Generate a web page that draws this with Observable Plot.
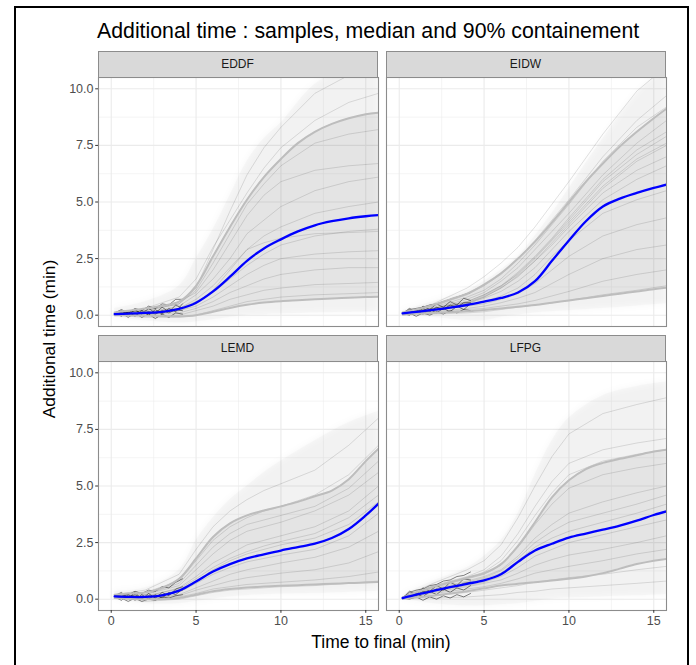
<!DOCTYPE html>
<html><head><meta charset="utf-8">
<script src="https://cdn.jsdelivr.net/npm/d3@7"></script>
<script src="https://cdn.jsdelivr.net/npm/@observablehq/plot@0.6"></script>
<style>
body{margin:0;background:#fff;font-family:"Liberation Sans",Arial,sans-serif;}
#root{position:relative;width:696px;height:665px;overflow:hidden;background:#fff;}
.frame{position:absolute;left:14px;top:6px;width:675px;height:720px;border:2px solid #000;box-sizing:border-box;}
.title{position:absolute;left:97px;top:19px;font-size:21.3px;color:#000;white-space:nowrap;}
.strip{position:absolute;box-sizing:border-box;background:#d9d9d9;border:1px solid #8c8c8c;color:#1a1a1a;font-size:12px;text-align:center;}
.xtitle{position:absolute;left:0;width:762px;top:632px;text-align:center;font-size:17.5px;color:#000;white-space:nowrap;}
.ytitle{position:absolute;left:49px;top:339px;font-size:17.4px;color:#000;white-space:nowrap;transform:translate(-50%,-50%) rotate(-90deg);}
.panel{position:absolute;}
</style>
</head><body>
<div id="root"></div>
<script>
// ---- data ----
const airports = ["EDDF", "EIDW", "LEMD", "LFPG"];
const titleText = "Additional time : samples, median and 90% containement";
const xTitle = "Time to final (min)";
const yTitle = "Additional time (min)";
const xMajor = [0, 5, 10, 15];
const xMinor = [2.5, 7.5, 12.5];
const yMajor = [0, 2.5, 5, 7.5, 10];
const yMinor = [1.25, 3.75, 6.25, 8.75];

// time grid for the median / 5% / 95% curves
const tQ = [0.2, 1, 2, 3, 4, 5, 6, 7, 8, 9, 10, 11, 12, 13, 14, 15, 15.75];
// time grid for samples and sample envelope
const tS = [0.2, 2, 4, 5, 6, 7, 8, 9, 10, 12, 14, 15.75];
// fine time grid for the early (dense, jagged) part of some samples
const tE = [0.2, 0.6, 1, 1.4, 1.8, 2.2, 2.6, 3, 3.4, 3.8, 4.2];

const median_EDDF = [0.05,0.07,0.1,0.15,0.28,0.55,1.05,1.7,2.4,2.95,3.35,3.7,3.97,4.15,4.28,4.37,4.42];
const q05_EDDF = [0.0,-0.01,-0.02,-0.04,-0.05,0.0,0.15,0.32,0.46,0.56,0.62,0.66,0.7,0.74,0.77,0.8,0.82];
const q95_EDDF = [0.12,0.2,0.3,0.42,0.6,1.3,2.6,3.9,5.1,6.1,6.9,7.6,8.1,8.45,8.7,8.88,8.95];
const lo_EDDF = [-0.1,-0.25,-0.35,-0.3,-0.2,-0.1,0.0,0.02,0.05,0.1,0.12,0.15];
const hi_EDDF = [0.3,0.6,1.3,2.5,3.8,5.3,6.8,7.8,8.5,10.2,11,11.3];
const samples_EDDF = [
  [0.1,0.2,0.5,1.2,2.9,4.6,6.2,7.4,8.3,9.8,10.6,11.0],
  [0.0,0.3,0.8,1.6,3.0,4.2,5.4,6.5,7.4,8.6,9.4,9.8],
  [0.1,0.2,0.6,1.0,2.0,3.2,4.4,5.3,5.9,6.4,6.6,6.7],
  [0.0,0.1,0.4,0.9,1.6,2.5,3.6,4.2,4.8,5.5,5.9,6.1],
  [0.1,0.15,0.3,0.7,1.3,2.1,2.9,3.5,3.9,4.5,4.8,5.0],
  [0.0,0.1,0.3,0.6,1.0,1.6,2.2,2.7,3.1,3.5,3.7,3.8],
  [0.05,0.0,0.2,0.4,0.8,1.3,1.8,2.2,2.5,2.7,2.8,2.85],
  [0.0,0.05,0.1,0.3,0.6,1.0,1.3,1.6,1.8,2.0,2.1,2.1],
  [0.1,0.0,0.0,0.2,0.4,0.7,0.9,1.1,1.2,1.35,1.4,1.45],
  [0.0,-0.1,-0.1,0.0,0.2,0.4,0.6,0.7,0.8,0.9,0.95,1.0],
  [0.05,0.2,0.5,1.1,2.3,3.6,4.9,5.8,6.6,7.6,8.0,8.2],
  [0.0,0.1,0.2,0.5,1.1,2.0,2.9,3.2,3.4,3.6,3.65,3.7]
];
const early_EDDF = [
  [0.05,0.2,0.0,0.25,0.05,0.3,0.1,0.35,0.15,0.45,0.3],
  [0.1,-0.05,0.15,-0.05,0.2,0.0,0.25,0.05,0.3,0.15,0.5],
  [0.0,0.15,0.1,0.2,0.1,0.15,0.05,0.2,0.1,0.25,0.2],
  [0.05,0.1,-0.1,0.1,-0.1,0.05,-0.15,0.05,-0.1,0.1,0.05],
  [0.1,0.25,0.1,0.3,0.2,0.4,0.3,0.5,0.45,0.7,0.7]
];

const median_EIDW = [0.08,0.15,0.23,0.33,0.45,0.6,0.76,1.0,1.5,2.4,3.3,4.15,4.8,5.15,5.4,5.62,5.77];
const q05_EIDW = [0.05,0.07,0.1,0.13,0.17,0.23,0.3,0.37,0.45,0.55,0.65,0.75,0.85,0.95,1.05,1.15,1.21];
const q95_EIDW = [0.12,0.25,0.45,0.7,0.95,1.35,1.85,2.5,3.25,4.1,5.0,5.9,6.7,7.45,8.1,8.7,9.12];
const lo_EIDW = [0.0,-0.1,-0.25,-0.25,-0.1,0.0,0.1,0.15,0.2,0.3,0.4,0.5];
const hi_EIDW = [0.2,0.6,1.1,1.5,2.0,2.6,3.5,4.5,5.6,7.8,9.8,11.0];
const samples_EIDW = [
  [0.1,0.5,1.2,1.7,2.3,3.0,3.9,4.9,5.9,8.0,9.9,11.0],
  [0.1,0.4,0.9,1.3,1.8,2.5,3.3,4.2,5.1,7.0,8.6,9.7],
  [0.05,0.3,0.7,1.0,1.5,2.1,2.9,3.7,4.5,6.2,7.6,8.6],
  [0.1,0.3,0.6,0.9,1.3,1.8,2.5,3.3,4.1,5.7,6.9,7.6],
  [0.05,0.25,0.5,0.75,1.05,1.5,2.1,2.9,3.7,5.1,6.0,6.6],
  [0.1,0.2,0.45,0.6,0.85,1.2,1.8,2.6,3.3,4.5,5.1,5.5],
  [0.05,0.2,0.4,0.5,0.7,0.95,1.4,2.0,2.6,3.5,4.0,4.3],
  [0.0,0.15,0.3,0.4,0.55,0.75,1.0,1.4,1.8,2.5,2.9,3.1],
  [0.05,0.1,0.25,0.3,0.4,0.5,0.65,0.85,1.05,1.5,1.8,2.0],
  [0.0,0.05,0.1,0.15,0.25,0.35,0.45,0.55,0.65,0.9,1.1,1.3],
  [0.1,0.35,0.8,1.1,1.6,2.3,3.1,4.0,4.9,6.8,8.3,9.2],
  [0.05,0.25,0.55,0.8,1.2,1.7,2.4,3.1,3.9,5.4,6.4,7.0],
  [0.1,0.3,0.6,0.9,1.3,1.9,2.6,3.4,4.3,6.0,7.3,8.1],
  [0.05,0.25,0.5,0.8,1.2,1.75,2.4,3.2,4.0,5.6,6.8,7.5],
  [0.1,0.3,0.55,0.85,1.25,1.85,2.55,3.35,4.2,5.9,7.1,7.9]
];
const early_EIDW = [
  [0.08,0.3,0.15,0.4,0.25,0.5,0.35,0.6,0.45,0.75,0.65],
  [0.08,0.0,0.2,0.05,0.25,0.1,0.3,0.15,0.4,0.25,0.5],
  [0.08,0.2,0.1,0.3,0.15,0.35,0.25,0.45,0.35,0.55,0.55],
  [0.08,0.1,-0.05,0.1,0.0,0.15,0.05,0.2,0.1,0.25,0.2],
  [0.08,0.25,0.3,0.35,0.45,0.5,0.6,0.7,0.8,0.9,1.0]
];

const median_LEMD = [0.12,0.1,0.1,0.17,0.38,0.78,1.22,1.55,1.8,1.98,2.15,2.3,2.45,2.7,3.1,3.7,4.22];
const q05_LEMD = [0.05,0.02,0.0,0.0,0.05,0.2,0.35,0.45,0.52,0.56,0.59,0.62,0.65,0.68,0.71,0.74,0.76];
const q95_LEMD = [0.2,0.25,0.3,0.5,0.9,1.8,2.75,3.35,3.7,3.92,4.1,4.3,4.55,4.8,5.3,6.1,6.65];
const lo_LEMD = [0.0,-0.2,-0.2,-0.1,0.0,0.1,0.15,0.2,0.22,0.25,0.3,0.35];
const hi_LEMD = [0.35,0.5,1.3,2.6,3.6,4.4,5.0,5.6,6.1,7.0,7.8,8.3];
const samples_LEMD = [
  [0.2,0.4,1.1,2.2,3.2,3.9,4.4,4.8,5.1,5.7,6.8,8.0],
  [0.15,0.3,0.8,1.7,2.6,3.2,3.6,3.9,4.1,4.6,5.5,6.8],
  [0.1,0.2,0.6,1.3,2.0,2.6,3.0,3.2,3.4,3.9,4.6,5.6],
  [0.15,0.1,0.5,1.0,1.6,2.0,2.4,2.6,2.8,3.2,3.9,5.0],
  [0.1,0.05,0.4,0.8,1.3,1.7,2.0,2.2,2.4,2.7,3.3,4.3],
  [0.1,0.1,0.3,0.7,1.1,1.4,1.65,1.8,1.95,2.2,2.8,3.8],
  [0.05,0.0,0.2,0.5,0.8,1.1,1.3,1.45,1.6,1.85,2.3,3.0],
  [0.1,0.05,0.15,0.4,0.6,0.8,0.95,1.05,1.15,1.3,1.6,2.1],
  [0.05,0.0,0.1,0.25,0.45,0.55,0.65,0.7,0.75,0.85,1.0,1.2],
  [0.1,-0.1,0.0,0.15,0.3,0.4,0.45,0.5,0.55,0.6,0.7,0.8],
  [0.15,0.2,0.7,1.5,2.3,2.9,3.3,3.5,3.7,4.1,4.9,6.1],
  [0.1,0.15,0.45,0.9,1.4,1.8,2.1,2.35,2.55,2.9,3.6,4.6]
];
const early_LEMD = [
  [0.15,0.3,0.05,0.3,0.0,0.25,0.05,0.3,0.15,0.45,0.55],
  [0.1,-0.05,0.2,-0.05,0.2,0.0,0.2,0.05,0.3,0.2,0.45],
  [0.12,0.2,0.1,0.2,0.05,0.15,0.1,0.2,0.2,0.35,0.4],
  [0.1,0.05,-0.1,0.05,-0.1,0.0,-0.05,0.1,0.05,0.15,0.2],
  [0.15,0.25,0.2,0.35,0.25,0.4,0.35,0.55,0.5,0.75,0.9]
];

const median_LFPG = [0.05,0.2,0.37,0.53,0.68,0.83,1.1,1.65,2.15,2.45,2.72,2.9,3.07,3.25,3.47,3.72,3.88];
const q05_LFPG = [0.03,0.08,0.15,0.25,0.35,0.48,0.6,0.68,0.75,0.82,0.9,1.0,1.15,1.35,1.55,1.7,1.78];
const q95_LFPG = [0.08,0.3,0.55,0.75,0.95,1.15,1.55,2.35,3.4,4.5,5.25,5.75,6.02,6.2,6.36,6.52,6.6];
const lo_LFPG = [0.0,-0.2,-0.3,-0.3,-0.25,-0.2,-0.1,0.0,0.05,0.1,0.15,0.2];
const hi_LFPG = [0.2,0.8,1.4,1.9,2.6,3.8,5.5,7.0,8.0,9.0,9.4,9.6];
const samples_LFPG = [
  [0.1,0.7,1.3,1.7,2.4,3.6,5.0,6.3,7.3,8.2,8.6,8.9],
  [0.1,0.6,1.0,1.3,1.9,2.9,4.1,5.2,6.0,6.6,6.9,7.1],
  [0.05,0.5,0.9,1.1,1.5,2.3,3.3,4.2,4.9,5.5,5.8,6.0],
  [0.1,0.45,0.8,1.0,1.3,1.9,2.7,3.3,3.8,4.3,4.7,5.0],
  [0.05,0.4,0.7,0.9,1.15,1.7,2.3,2.7,3.0,3.4,3.8,4.2],
  [0.05,0.35,0.6,0.75,1.0,1.4,1.9,2.2,2.5,2.85,3.2,3.5],
  [0.0,0.3,0.55,0.7,0.85,1.15,1.5,1.75,1.95,2.2,2.5,2.8],
  [0.05,0.25,0.45,0.55,0.7,0.9,1.15,1.3,1.45,1.7,2.0,2.2],
  [0.0,0.15,0.3,0.4,0.5,0.6,0.75,0.85,0.95,1.1,1.3,1.45],
  [0.05,0.05,0.1,0.15,0.2,0.3,0.35,0.45,0.5,0.6,0.7,0.8],
  [0.1,0.55,0.95,1.2,1.7,2.6,3.7,4.7,5.5,6.1,6.4,6.6],
  [0.05,0.4,0.75,0.95,1.25,1.8,2.5,3.0,3.4,3.8,4.2,4.6]
];
const early_LFPG = [
  [0.05,0.35,0.2,0.5,0.35,0.6,0.45,0.75,0.6,0.9,0.85],
  [0.05,0.05,0.25,0.1,0.35,0.2,0.45,0.3,0.5,0.4,0.6],
  [0.05,0.2,0.15,0.35,0.3,0.45,0.4,0.55,0.55,0.7,0.75],
  [0.05,0.0,0.1,-0.05,0.1,0.0,0.15,0.05,0.2,0.1,0.25],
  [0.05,0.3,0.4,0.45,0.6,0.65,0.8,0.85,1.0,1.05,1.2]
];

// ---- build ----
const panels = [
  {name: airports[0], med: median_EDDF, q05: q05_EDDF, q95: q95_EDDF, lo: lo_EDDF, hi: hi_EDDF, samples: samples_EDDF, early: early_EDDF},
  {name: airports[1], med: median_EIDW, q05: q05_EIDW, q95: q95_EIDW, lo: lo_EIDW, hi: hi_EIDW, samples: samples_EIDW, early: early_EIDW},
  {name: airports[2], med: median_LEMD, q05: q05_LEMD, q95: q95_LEMD, lo: lo_LEMD, hi: hi_LEMD, samples: samples_LEMD, early: early_LEMD},
  {name: airports[3], med: median_LFPG, q05: q05_LFPG, q95: q95_LFPG, lo: lo_LFPG, hi: hi_LFPG, samples: samples_LFPG, early: early_LFPG}
];

const root = document.getElementById("root");
const add = (cls, text) => { const d = document.createElement("div"); d.className = cls; if (text != null) d.textContent = text; root.appendChild(d); return d; };

const colX = [97.5, 385.5], rowY = [77, 361], PW = 280, PH = 249, STRIP = 26;
const FONT = "'Liberation Sans', Arial, sans-serif";
const SVGNS = "http://www.w3.org/2000/svg";

panels.forEach((p, i) => {
  const col = i % 2, row = Math.floor(i / 2);
  const mL = col === 0 ? 45 : 0, mB = row === 1 ? 30 : 0;
  const qRows = tQ.map((t, j) => ({t, med: p.med[j], q05: p.q05[j], q95: p.q95[j]}));
  const envRows = tS.map((t, j) => ({t, lo: p.lo[j], hi: p.hi[j]}));
  const sRows = p.samples.flatMap((s, k) => s.map((v, j) => ({id: k, t: tS[j], v})));
  const eRows = p.early.flatMap((s, k) => s.map((v, j) => ({id: k, t: tE[j], v})));
  const marks = [
    Plot.gridX(xMinor, {stroke: "#ebebeb", strokeOpacity: 1, strokeWidth: 0.55}),
    Plot.gridY(yMinor, {stroke: "#ebebeb", strokeOpacity: 1, strokeWidth: 0.55}),
    Plot.gridX(xMajor, {stroke: "#ebebeb", strokeOpacity: 1, strokeWidth: 1.1}),
    Plot.gridY(yMajor, {stroke: "#ebebeb", strokeOpacity: 1, strokeWidth: 1.1}),
    // envelope drawn twice: a faint crisp one and a softened one on top
    Plot.areaY(envRows, {x: "t", y1: "lo", y2: "hi", fill: "#000", fillOpacity: 0.02, curve: "catmull-rom", clip: true}),
    Plot.areaY(envRows, {x: "t", y1: "lo", y2: "hi", fill: "#000", fillOpacity: 0.03, curve: "catmull-rom", clip: true}),
    Plot.areaY(qRows, {x: "t", y1: "q05", y2: "q95", fill: "#000", fillOpacity: 0.055, curve: "catmull-rom", clip: true}),
    Plot.line(sRows, {x: "t", y: "v", z: "id", stroke: "#000", strokeOpacity: 0.17, strokeWidth: 0.7, clip: true}),
    Plot.line(eRows, {x: "t", y: "v", z: "id", stroke: "#000", strokeOpacity: 0.6, strokeWidth: 0.8, clip: true}),
    Plot.line(qRows, {x: "t", y: "q05", stroke: "#bdbdbd", strokeWidth: 2, curve: "catmull-rom", clip: true}),
    Plot.line(qRows, {x: "t", y: "q95", stroke: "#bdbdbd", strokeWidth: 2, curve: "catmull-rom", clip: true}),
    Plot.line(qRows, {x: "t", y: "med", stroke: "#0000ff", strokeWidth: 2.3, curve: "catmull-rom", clip: true}),
    Plot.frame({stroke: "#8c8c8c", strokeWidth: 1.1})
  ];
  if (col === 0) marks.push(Plot.axisY(yMajor, {tickFormat: d => d.toFixed(1), tickSize: 2.8, tickPadding: 2.2, fontSize: 12.5, stroke: "#333", fill: "#4d4d4d", label: null}));
  if (row === 1) marks.push(Plot.axisX(xMajor, {tickFormat: d => String(d), tickSize: 2.8, tickPadding: 3, fontSize: 12.5, stroke: "#333", fill: "#4d4d4d", label: null}));
  const svg = Plot.plot({
    width: PW + mL, height: PH + mB,
    marginLeft: mL, marginRight: 0, marginTop: 0, marginBottom: mB,
    x: {domain: [-0.75, 15.75], axis: row === 1 ? undefined : null},
    y: {domain: [-0.5, 10.5], axis: col === 0 ? undefined : null},
    style: {fontFamily: FONT, fontSize: "12.5px", color: "#4d4d4d", background: "transparent", overflow: "visible"},
    marks
  });
  // soften the second envelope's edges with an SVG blur filter
  try {
    const defs = document.createElementNS(SVGNS, "defs");
    const filt = document.createElementNS(SVGNS, "filter");
    filt.setAttribute("id", "soft" + i);
    filt.setAttribute("filterUnits", "userSpaceOnUse");
    filt.setAttribute("x", "-50"); filt.setAttribute("y", "-50");
    filt.setAttribute("width", String(PW + mL + 100)); filt.setAttribute("height", String(PH + mB + 100));
    const blur = document.createElementNS(SVGNS, "feGaussianBlur");
    blur.setAttribute("stdDeviation", "3");
    filt.appendChild(blur); defs.appendChild(filt);
    svg.appendChild(defs);
    const areas = svg.querySelectorAll('g[aria-label="area"]');
    if (areas.length > 1) areas[1].querySelectorAll("path").forEach(el => el.setAttribute("filter", `url(#soft${i})`));
  } catch (e) {}
  const wrap = add("panel");
  wrap.style.left = (colX[col] - mL) + "px";
  wrap.style.top = rowY[row] + "px";
  wrap.appendChild(svg);
  const s = add("strip", p.name);
  s.style.left = colX[col] + "px";
  s.style.top = (rowY[row] - STRIP) + "px";
  s.style.width = PW + "px";
  s.style.height = (STRIP + 1) + "px";
  s.style.lineHeight = (STRIP - 1) + "px";
});

add("title", titleText);
add("xtitle", xTitle);
add("ytitle", yTitle);
add("frame");
</script>
</body></html>
